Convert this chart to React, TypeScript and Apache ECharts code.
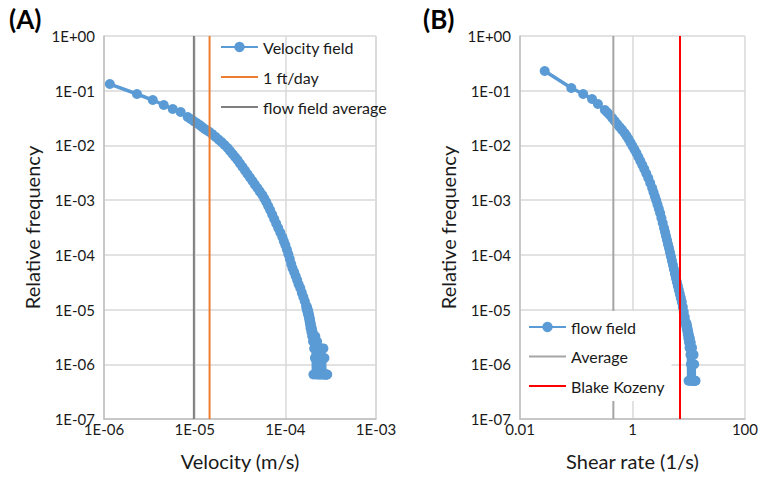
import React, { useEffect, useRef } from "react";
import * as echarts from "echarts";

// ---- Panel A: velocity distribution ----
const velocityX = [
  1.16e-6, 2.31e-6, 3.45e-6, 4.56e-6, 5.73e-6, 7.01e-6,
  8.38e-6, 9.04e-6, 9.76e-6, 1.053e-5, 1.135e-5, 1.21e-5, 1.29e-5, 1.372e-5, 1.46e-5, 1.575e-5,
  1.7e-5, 1.835e-5, 1.98e-5, 2.139e-5, 2.31e-5, 2.46e-5, 2.62e-5, 2.79e-5, 2.97e-5, 3.16e-5,
  3.37e-5, 3.59e-5, 3.82e-5, 4.07e-5, 4.34e-5, 4.62e-5, 4.92e-5, 5.24e-5, 5.58e-5, 5.86e-5,
  6.16e-5, 6.47e-5, 6.8e-5, 7.16e-5, 7.54e-5, 7.93e-5, 8.35e-5, 8.8e-5, 9.27e-5, 9.63e-5,
  1.0e-4, 1.04e-4, 1.08e-4, 1.12e-4, 1.16e-4, 1.2e-4, 1.25e-4, 1.3e-4, 1.35e-4, 1.4e-4,
  1.46e-4, 1.52e-4, 1.58e-4, 1.64e-4,
  1.7e-4, 1.71e-4, 1.72e-4, 1.73e-4, 1.74e-4, 1.75e-4, 1.76e-4, 1.77e-4, 1.78e-4, 1.79e-4,
  1.8e-4, 1.81e-4, 1.82e-4, 1.83e-4, 1.84e-4, 1.85e-4, 1.86e-4, 1.87e-4, 1.88e-4, 1.89e-4,
  1.9e-4, 1.92e-4, 1.94e-4, 1.96e-4, 1.98e-4, 2.0e-4, 2.02e-4, 2.04e-4, 2.06e-4, 2.08e-4,
  2.1e-4, 2.12e-4, 2.14e-4, 2.16e-4, 2.18e-4, 2.2e-4, 2.22e-4, 2.24e-4, 2.26e-4, 2.28e-4,
  2.3e-4, 2.33e-4, 2.36e-4, 2.39e-4, 2.42e-4, 2.45e-4, 2.48e-4, 2.51e-4, 2.54e-4, 2.57e-4,
  2.6e-4, 2.63e-4, 2.66e-4, 2.7e-4, 2.74e-4, 2.78e-4, 2.82e-4, 2.86e-4, 2.9e-4,
];
const velocityFreq = [
  0.1325, 0.0871, 0.0676, 0.0548, 0.0463, 0.0408,
  0.0331, 0.0304, 0.0279, 0.0257, 0.0236, 0.0217, 0.02, 0.0188, 0.0176, 0.0159,
  0.0143, 0.0128, 0.0115, 0.0102, 8.96e-3, 7.9e-3, 6.96e-3, 6.14e-3, 5.41e-3, 4.67e-3,
  4.03e-3, 3.48e-3, 3.0e-3, 2.59e-3, 2.23e-3, 1.92e-3, 1.66e-3, 1.43e-3, 1.24e-3, 1.07e-3,
  9.23e-4, 7.8e-4, 6.59e-4, 5.45e-4, 4.51e-4, 3.73e-4, 3.09e-4, 2.55e-4, 2.11e-4, 1.78e-4,
  1.51e-4, 1.25e-4, 1.03e-4, 8.4e-5, 6.8e-5, 5.7e-5, 4.85e-5, 4.1e-5, 3.46e-5, 2.9e-5,
  2.47e-5, 2.04e-5, 1.69e-5, 1.42e-5,
  1.17e-5, 1.11e-5, 1.04e-5, 1.11e-5, 9.75e-6, 1.04e-5, 9.1e-6, 9.75e-6, 8.45e-6, 9.1e-6,
  7.8e-6, 8.45e-6, 7.15e-6, 7.8e-6, 6.5e-6, 7.15e-6, 5.85e-6, 6.5e-6, 5.2e-6, 5.85e-6,
  4.55e-6, 5.2e-6, 3.9e-6, 4.55e-6, 3.25e-6, 3.9e-6, 2.6e-6, 6.5e-7, 3.25e-6, 1.95e-6,
  2.6e-6, 1.3e-6, 3.25e-6, 1.95e-6, 2.6e-6, 6.5e-7, 1.95e-6, 2.6e-6, 1.3e-6, 1.95e-6,
  6.5e-7, 1.95e-6, 1.3e-6, 6.5e-7, 1.95e-6, 1.3e-6, 6.5e-7, 1.3e-6, 1.95e-6, 6.5e-7,
  1.3e-6, 1.95e-6, 6.5e-7, 1.3e-6, 6.5e-7, 6.5e-7, 6.5e-7, 6.5e-7, 6.5e-7,
];
const velocityAverage = 9.8e-6;
const oneFtPerDay = 1.46e-5;

// ---- Panel B: shear rate distribution ----
const shearX = [
  0.0275, 0.0817, 0.133, 0.191, 0.243, 0.323, 0.357, 0.395, 0.437, 0.483, 0.534, 0.591,
  0.654, 0.724, 0.785, 0.851, 0.922, 1.0, 1.084, 1.175, 1.273, 1.38, 1.495, 1.62, 1.759,
  1.91, 2.068, 2.24, 2.366, 2.499, 2.64, 2.785, 2.938, 3.1, 3.27, 3.45, 3.64, 3.79, 3.947,
  4.11, 4.28, 4.457, 4.64, 4.832, 5.031, 5.24, 5.454, 5.678, 5.91, 6.156, 6.412, 6.68,
  6.955, 7.242, 7.54, 7.849, 8.17, 8.508, 8.86,
  8.95, 9.05, 9.15, 9.25, 9.35, 9.45, 9.55, 9.65, 9.75, 9.85, 9.95, 10.05, 10.15, 10.25,
  10.35, 10.45, 10.55, 10.65, 10.75, 10.85, 10.95, 11.05, 11.15, 11.3, 11.45, 11.6, 11.75,
  11.9, 12.05, 12.2, 12.35, 12.5, 12.65, 12.8, 13.0, 13.2,
];
const shearFreq = [
  0.229, 0.112, 0.0871, 0.0705, 0.0571, 0.0444, 0.04, 0.036, 0.0317, 0.0279, 0.0246, 0.0217,
  0.0192, 0.0169, 0.0149, 0.0131, 0.0113, 9.75e-3, 8.41e-3, 7.26e-3, 6.14e-3, 5.19e-3,
  4.39e-3, 3.71e-3, 3.07e-3, 2.54e-3, 2.05e-3, 1.66e-3, 1.4e-3, 1.18e-3, 1.0e-3, 8.35e-4,
  6.97e-4, 5.81e-4, 4.71e-4, 3.82e-4, 3.09e-4, 2.61e-4, 2.2e-4, 1.86e-4, 1.57e-4, 1.33e-4,
  1.12e-4, 9.35e-5, 7.8e-5, 6.51e-5, 5.43e-5, 4.52e-5, 3.77e-5, 3.18e-5, 2.69e-5, 2.27e-5,
  1.92e-5, 1.62e-5, 1.37e-5, 1.11e-5, 9.0e-6, 7.29e-6, 5.9e-6,
  5.5e-6, 5.0e-6, 5.5e-6, 4.5e-6, 5.0e-6, 4.0e-6, 4.5e-6, 3.5e-6, 4.0e-6, 3.0e-6, 5e-7,
  3.5e-6, 2.5e-6, 3.0e-6, 2.0e-6, 3.0e-6, 5e-7, 2.5e-6, 1.5e-6, 2.5e-6, 1.0e-6, 2.0e-6,
  5e-7, 1.5e-6, 2.0e-6, 1.0e-6, 1.5e-6, 5e-7, 1.0e-6, 1.5e-6, 5e-7, 1.0e-6, 5e-7, 5e-7,
  5e-7, 5e-7,
];
const shearAverage = 0.457;
const blakeKozeny = 7.0;

const yMin = 1e-7;
const yMax = 1;

const FONT = "Lato";
const TXT = "#1a1a1a";

function sciLabel(v: number): string {
  const e = Math.round(Math.log10(v));
  return "1E" + (e < 0 ? "-" : "+") + String(Math.abs(e)).padStart(2, "0");
}
function plainLabel(v: number): string {
  const e = Math.round(Math.log10(v));
  return e < 0 ? Math.pow(10, e).toFixed(-e) : String(Math.pow(10, e));
}

const vline = (x: number) => [
  [x, yMin],
  [x, yMax],
];

export default function App() {
  const ref = useRef<HTMLDivElement>(null);
  useEffect(() => {
    if (!ref.current) return;
    const chart = echarts.init(ref.current, undefined, { renderer: "svg" });
    const axisLine = { show: true, lineStyle: { color: "#bfbfbf", width: 1.5 } };
    const splitLine = { show: true, lineStyle: { color: "#d9d9d9", width: 1.5 } };
    const tickLabel = { fontFamily: FONT, fontSize: 15, color: TXT, lineHeight: 10 };
    const nameStyle = { fontFamily: FONT, fontSize: 20, color: TXT };
    const yAxisCommon = (gridIndex: number) => ({
      type: "log",
      gridIndex,
      min: yMin,
      max: yMax,
      logBase: 10,
      axisLine,
      axisTick: { show: false },
      splitLine,
      axisLabel: { ...tickLabel, margin: 9, formatter: sciLabel },
      name: "Relative frequency",
      nameLocation: "middle",
      nameGap: 62,
      nameTextStyle: nameStyle,
    });
    const legendText = { fontFamily: FONT, fontSize: 16, color: TXT, lineHeight: 20 };
    const lineSeries = (name: string, xi: number, x: number, color: string) => ({
      name,
      type: "line",
      xAxisIndex: xi,
      yAxisIndex: xi,
      data: vline(x),
      symbol: "none",
      itemStyle: { color, opacity: 0 },
      lineStyle: { color, width: 2 },
      z: 3,
    });
    chart.setOption({
      animation: false,
      title: [
        { text: "(A)", left: 4, top: 1, textStyle: { fontFamily: FONT, fontSize: 26, fontWeight: "bold", color: "#000" } },
        { text: "(B)", left: 418, top: 1, textStyle: { fontFamily: FONT, fontSize: 26, fontWeight: "bold", color: "#000" } },
      ],
      grid: [
        { left: 104, top: 36, width: 272, height: 383 },
        { left: 520, top: 36, width: 227, height: 383 },
      ],
      xAxis: [
        {
          type: "log",
          gridIndex: 0,
          min: 1e-6,
          max: 1e-3,
          logBase: 10,
          axisLine,
          axisTick: { show: false },
          splitLine,
          axisLabel: { ...tickLabel, margin: 5, formatter: sciLabel },
          name: "Velocity (m/s)",
          nameLocation: "middle",
          nameGap: 32,
          nameTextStyle: nameStyle,
        },
        {
          type: "log",
          gridIndex: 1,
          min: 0.01,
          max: 100,
          logBase: 100,
          axisLine,
          axisTick: { show: false },
          splitLine,
          axisLabel: { ...tickLabel, margin: 5, formatter: plainLabel },
          name: "Shear rate (1/s)",
          nameLocation: "middle",
          nameGap: 32,
          nameTextStyle: nameStyle,
        },
      ],
      yAxis: [yAxisCommon(0), yAxisCommon(1)],
      legend: [
        {
          data: [
            { name: "Velocity field" },
            { name: "1 ft/day", itemStyle: { opacity: 0 } },
            { name: "flow field average", itemStyle: { opacity: 0 } },
          ],
          orient: "vertical",
          left: 215,
          top: 32,
          padding: 5,
          itemWidth: 37,
          itemHeight: 13,
          itemGap: 10,
          selectedMode: false,
          textStyle: legendText,
        },
        {
          data: [
            { name: "flow field" },
            { name: "Average", itemStyle: { opacity: 0 } },
            { name: "Blake Kozeny", itemStyle: { opacity: 0 } },
          ],
          orient: "vertical",
          left: 521,
          top: 311,
          padding: [6, 7, 5, 7],
          itemWidth: 37,
          itemHeight: 13,
          itemGap: 9.5,
          selectedMode: false,
          backgroundColor: "#ffffff",
          textStyle: legendText,
        },
      ],
      series: [
        {
          name: "Velocity field",
          type: "line",
          xAxisIndex: 0,
          yAxisIndex: 0,
          data: velocityX.map((x, i) => [x, velocityFreq[i]]),
          symbol: "circle",
          symbolSize: 10,
          showAllSymbol: true,
          itemStyle: { color: "#5b9bd5" },
          lineStyle: { color: "#5b9bd5", width: 3.5 },
          z: 2,
        },
        lineSeries("1 ft/day", 0, oneFtPerDay, "#ed7d31"),
        lineSeries("flow field average", 0, velocityAverage, "#7f7f7f"),
        {
          name: "flow field",
          type: "line",
          xAxisIndex: 1,
          yAxisIndex: 1,
          data: shearX.map((x, i) => [x, shearFreq[i]]),
          symbol: "circle",
          symbolSize: 10,
          showAllSymbol: true,
          itemStyle: { color: "#5b9bd5" },
          lineStyle: { color: "#5b9bd5", width: 3.5 },
          z: 2,
        },
        lineSeries("Average", 1, shearAverage, "#a5a5a5"),
        lineSeries("Blake Kozeny", 1, blakeKozeny, "#ff0000"),
      ],
    });
    return () => chart.dispose();
  }, []);
  return <div ref={ref} style={{ width: 761, height: 479, position: "fixed", left: 0, top: 0, background: "#fff" }} />;
}
